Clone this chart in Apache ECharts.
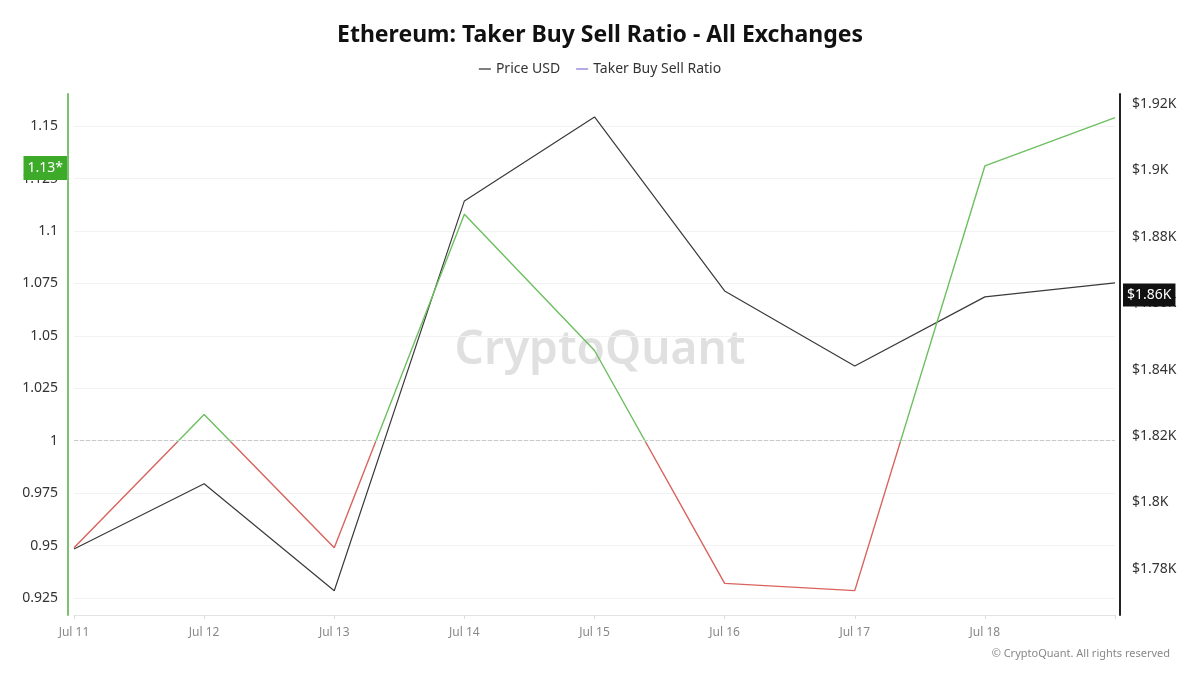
<!DOCTYPE html>
<html>
<head>
<meta charset="utf-8">
<script src="https://cdn.jsdelivr.net/npm/echarts@6/dist/echarts.min.js"></script>
<style>
  html, body { margin: 0; padding: 0; background: #fff; }
  #chart { width: 1200px; height: 675px; }
</style>
</head>
<body>
<div id="chart"></div>
<script>
// data
var days = ['Jul 11', 'Jul 12', 'Jul 13', 'Jul 14', 'Jul 15', 'Jul 16', 'Jul 17', 'Jul 18', 'Jul 19'];
var priceUsd = [1786, 1805.6, 1773.4, 1890.8, 1916.1, 1863.7, 1841.1, 1861.9, 1866.1];
var takerRatio = [0.949, 1.0125, 0.949, 1.108, 1.043, 0.932, 0.9285, 1.131, 1.154];
var ratioTicks = [0.925, 0.95, 0.975, 1, 1.025, 1.05, 1.075, 1.1, 1.125, 1.15];
var priceTicks = [1780, 1800, 1820, 1840, 1860, 1880, 1900, 1920];
var ratioTag = 1.13;

var font = '"Noto Sans", "Open Sans", sans-serif';
var chart = echarts.init(document.getElementById('chart'));

// green above 1, red below: split point inside the line's own bounding box
var rMax = Math.max.apply(null, takerRatio);
var rMin = Math.min.apply(null, takerRatio);
var split = (rMax - 1) / (rMax - rMin);
var ratioColor = new echarts.graphic.LinearGradient(0, 0, 0, 1, [
  { offset: 0, color: '#6cbf5f' },
  { offset: split, color: '#6cbf5f' },
  { offset: split, color: '#d9625c' },
  { offset: 1, color: '#d9625c' }
]);

var option = {
  backgroundColor: '#fff',
  textStyle: { fontFamily: font },
  title: {
    text: 'Ethereum: Taker Buy Sell Ratio - All Exchanges',
    left: 'center',
    top: 19,
    textStyle: { fontSize: 23, fontWeight: 'bold', color: '#111', fontFamily: font }
  },
  legend: {
    top: 57,
    left: 'center',
    icon: 'rect',
    itemWidth: 12,
    itemHeight: 1.5,
    itemGap: 16,
    textStyle: { fontSize: 14, color: '#333' },
    data: ['Price USD', 'Taker Buy Sell Ratio']
  },
  grid: { left: 74, right: 85, top: 94, bottom: 60 },
  xAxis: {
    type: 'category',
    data: days,
    boundaryGap: false,
    axisLine: { lineStyle: { color: '#e3e3e3' } },
    axisTick: { show: true, length: 4, lineStyle: { color: '#ddd' } },
    axisLabel: {
      color: '#888',
      fontSize: 12,
      margin: 12,
      formatter: function (v, i) { return i < days.length - 1 ? v : ''; }
    }
  },
  yAxis: [
    {
      type: 'value',
      position: 'left',
      min: 0.9169,
      max: 1.1653,
      offset: 6,
      axisLine: { show: true, lineStyle: { color: '#7cc16f', width: 2 } },
      axisTick: { show: false, customValues: ratioTicks },
      axisLabel: { customValues: ratioTicks, color: '#333', fontSize: 14, margin: 10 },
      splitLine: { show: true, lineStyle: { color: '#f2f2f2' } }
    },
    {
      type: 'value',
      position: 'right',
      min: 1766.1,
      max: 1923,
      offset: 5,
      axisLine: { show: true, lineStyle: { color: '#222', width: 2 } },
      axisTick: { show: false, customValues: priceTicks },
      axisLabel: {
        customValues: priceTicks,
        color: '#333',
        fontSize: 14,
        margin: 12,
        formatter: function (v) { return '$' + (v / 1000) + 'K'; }
      },
      splitLine: { show: false }
    }
  ],
  graphic: [
    {
      type: 'text',
      left: 'center',
      top: 328,
      z: 0,
      style: { text: 'CryptoQuant', font: '600 46px ' + font, fill: '#e0e0e0' }
    },
    {
      type: 'text',
      right: 30,
      top: 648,
      style: { text: '\u00a9 CryptoQuant. All rights reserved', font: '11px ' + font, fill: '#888' }
    }
  ],
  series: [
    {
      name: 'Price USD',
      type: 'line',
      yAxisIndex: 1,
      data: priceUsd,
      symbol: 'none',
      z: 3,
      itemStyle: { color: '#555' },
      lineStyle: { color: '#3a3a3a', width: 1.2 },
      markLine: {
        silent: true,
        symbol: 'none',
        data: [{
          yAxis: priceUsd[priceUsd.length - 1],
          lineStyle: { color: 'rgba(0,0,0,0)', width: 0 },
          label: {
            show: true,
            position: 'end',
            distance: 8,
            formatter: function (p) { return '$' + (Math.floor(p.value / 10) / 100) + 'K'; },
            color: '#fff',
            backgroundColor: '#111',
            padding: [4, 4, 5, 4],
            fontSize: 14,
            offset: [0, 12]
          }
        }]
      }
    },
    {
      name: 'Taker Buy Sell Ratio',
      type: 'line',
      yAxisIndex: 0,
      data: takerRatio,
      symbol: 'none',
      z: 4,
      itemStyle: { color: '#9a8fdc' },
      lineStyle: { width: 1.4, color: ratioColor },
      markLine: {
        silent: true,
        symbol: 'none',
        data: [
          {
            yAxis: 1,
            lineStyle: { color: '#c8c8c8', type: 'dashed', width: 1 },
            label: { show: false }
          },
          {
            yAxis: ratioTag,
            lineStyle: { color: 'rgba(0,0,0,0)', width: 0 },
            label: {
              show: true,
              position: 'start',
              distance: 7,
              formatter: function (p) { return p.value + '*'; },
              color: '#fff',
              backgroundColor: '#3daa2a',
              padding: [5, 4],
              fontSize: 14
            }
          }
        ]
      }
    }
  ]
};

chart.setOption(option);
</script>
</body>
</html>
